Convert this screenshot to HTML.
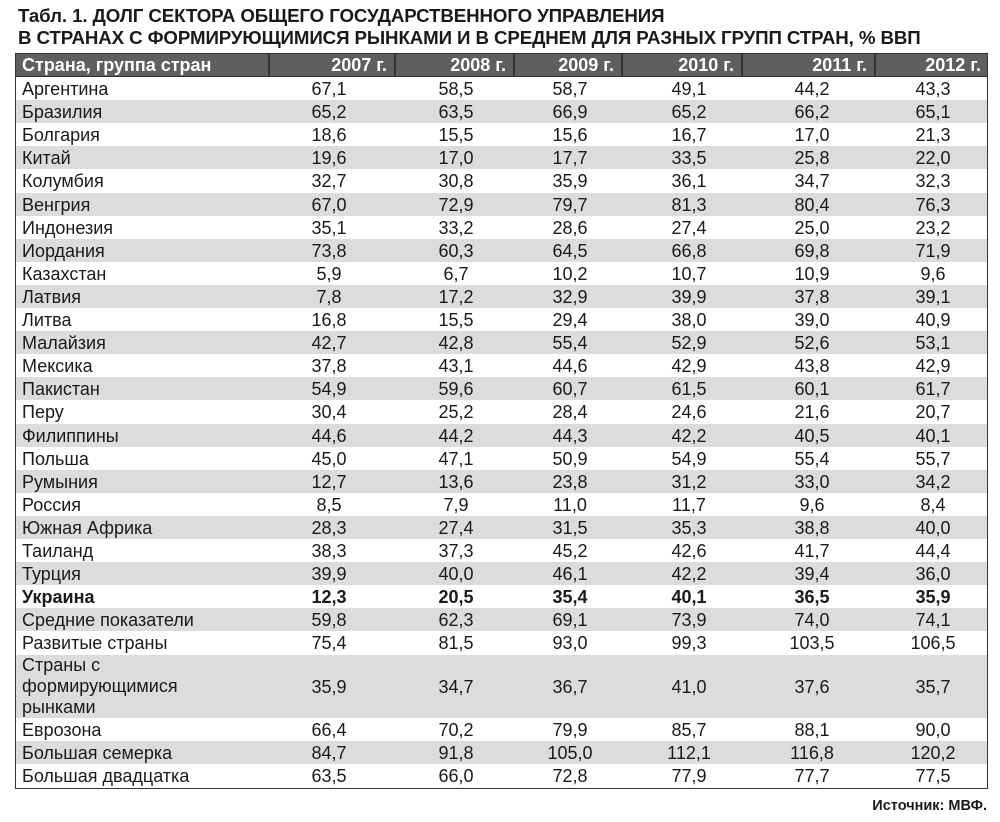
<!DOCTYPE html>
<html><head><meta charset="utf-8"><style>
body{margin:0;width:1000px;height:822px;background:#fff;font-family:"Liberation Sans",sans-serif;color:#1a1a1a;position:relative;overflow:hidden}
#title{position:absolute;left:18px;top:5px;font-weight:bold;font-size:18.7px;line-height:22px;letter-spacing:-0.1px}
#tbl{position:absolute;left:15px;top:53px;width:973px;height:736px;border:1.5px solid #333;box-sizing:border-box;background:#333;overflow:hidden}
.hdr{position:absolute;top:0;height:22px;background:#5f5f5f;color:#fff;font-weight:bold;font-size:18px;line-height:22px;white-space:nowrap}
.row{position:absolute;left:0;width:971px}
.c{position:absolute;font-size:18px;white-space:nowrap;transform:translateX(-50%);line-height:20px}
.n{position:absolute;left:6px;font-size:18px;line-height:21px;white-space:nowrap}
#src{position:absolute;right:13px;top:798px;font-weight:bold;font-size:14.5px}
</style></head><body>
<div id="title">Табл. 1. ДОЛГ СЕКТОРА ОБЩЕГО ГОСУДАРСТВЕННОГО УПРАВЛЕНИЯ<br>В СТРАНАХ С ФОРМИРУЮЩИМИСЯ РЫНКАМИ И В СРЕДНЕМ ДЛЯ РАЗНЫХ ГРУПП СТРАН, % ВВП</div>
<div id="tbl"></div>
<div id="src">Источник: МВФ.</div>
<script>
const names=["Аргентина","Бразилия","Болгария","Китай","Колумбия","Венгрия","Индонезия","Иордания","Казахстан","Латвия","Литва","Малайзия","Мексика","Пакистан","Перу","Филиппины","Польша","Румыния","Россия","Южная Африка","Таиланд","Турция","Украина","Средние показатели","Развитые страны","Страны с<br>формирующимися<br>рынками","Еврозона","Большая семерка","Большая двадцатка"];
const years=["2007 г.","2008 г.","2009 г.","2010 г.","2011 г.","2012 г."];
const values=[
["67,1","58,5","58,7","49,1","44,2","43,3"],["65,2","63,5","66,9","65,2","66,2","65,1"],["18,6","15,5","15,6","16,7","17,0","21,3"],["19,6","17,0","17,7","33,5","25,8","22,0"],["32,7","30,8","35,9","36,1","34,7","32,3"],["67,0","72,9","79,7","81,3","80,4","76,3"],["35,1","33,2","28,6","27,4","25,0","23,2"],["73,8","60,3","64,5","66,8","69,8","71,9"],["5,9","6,7","10,2","10,7","10,9","9,6"],["7,8","17,2","32,9","39,9","37,8","39,1"],["16,8","15,5","29,4","38,0","39,0","40,9"],["42,7","42,8","55,4","52,9","52,6","53,1"],["37,8","43,1","44,6","42,9","43,8","42,9"],["54,9","59,6","60,7","61,5","60,1","61,7"],["30,4","25,2","28,4","24,6","21,6","20,7"],["44,6","44,2","44,3","42,2","40,5","40,1"],["45,0","47,1","50,9","54,9","55,4","55,7"],["12,7","13,6","23,8","31,2","33,0","34,2"],["8,5","7,9","11,0","11,7","9,6","8,4"],["28,3","27,4","31,5","35,3","38,8","40,0"],["38,3","37,3","45,2","42,6","41,7","44,4"],["39,9","40,0","46,1","42,2","39,4","36,0"],["12,3","20,5","35,4","40,1","36,5","35,9"],["59,8","62,3","69,1","73,9","74,0","74,1"],["75,4","81,5","93,0","99,3","103,5","106,5"],["35,9","34,7","36,7","41,0","37,6","35,7"],["66,4","70,2","79,9","85,7","88,1","90,0"],["84,7","91,8","105,0","112,1","116,8","120,2"],["63,5","66,0","72,8","77,9","77,7","77,5"]];
const T=document.getElementById('tbl');
const hb=[0,252,378,497,605,725,858,972];
const cx=[313,440,554,673,796,917];
for(let i=0;i<7;i++){const h=document.createElement('div');h.className='hdr';


h.style.left=hb[i]+(i?2:0)+'px';h.style.width=(hb[i+1]-hb[i]-(i?2:0))+'px';
h.style.boxSizing='border-box';
if(i){h.style.textAlign='right';h.style.paddingRight='7px';h.textContent=years[i-1];}else{h.style.paddingLeft='6px';h.textContent='Страна, группа стран';}
T.appendChild(h);}
let y=23;
const step=23.1;
names.forEach((n,r)=>{const hgt=(r===25)?63:step;const row=document.createElement('div');row.className='row';


const top=Math.round(y),bot=Math.round(y+hgt);
row.style.top=top+'px';row.style.height=(r===names.length-1?40:bot-top)+'px';row.style.background=r%2?'#dcdcdc':'#fff';
const bold=r===22;
const nm=document.createElement('div');nm.className='n';nm.innerHTML=n;nm.style.top=(r===25?0:2)+'px';if(bold)nm.style.fontWeight='bold';


row.appendChild(nm);
values[r].forEach((v,k)=>{const c=document.createElement('div');c.className='c';c.textContent=v;c.style.left=cx[k]+'px';c.style.top=Math.round((bot-top-20)/2)+'px';if(bold)c.style.fontWeight='bold';


row.appendChild(c);});
T.appendChild(row);y+=hgt;});
</script>
</body></html>
